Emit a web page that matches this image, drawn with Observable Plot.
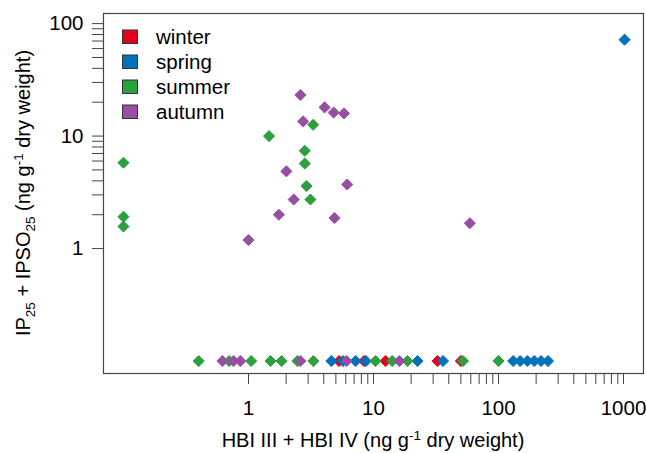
<!DOCTYPE html>
<html><head><meta charset="utf-8">
<script src="https://cdn.jsdelivr.net/npm/d3@7"></script>
<script src="https://cdn.jsdelivr.net/npm/@observablehq/plot@0.6"></script>
<style>
body{margin:0;background:#fff}
#chart{position:absolute;left:0;top:0}
</style>
</head><body><div id="chart"></div>
<script>
// Seasons and colours
const seasons = ["winter", "spring", "summer", "autumn"];
const seasonColors = ["#e3001b", "#0072bc", "#2ca03c", "#984ea3"];

// HBI III + HBI IV (x) and IP25 + IPSO25 (y), ng g-1 dry weight; 0 = not detected
const winterHBI = [5.3, 8.4, 12.5, 32.5, 50];
const winterIP  = [0, 0, 0, 0, 0];

const springHBI = [4.6, 5.7, 7.2, 8.7, 22.5, 36, 131, 149, 170, 193, 219, 249, 1020];
const springIP  = [0, 0, 0, 0, 0, 0, 0, 0, 0, 0, 0, 0, 72];

const summerHBI = [0.40, 0.70, 1.05, 1.5, 1.84, 2.46, 3.3, 10.4, 14.1, 18.7, 52, 100,
                   0, 0, 0, 1.46, 2.82, 2.82, 3.29, 2.91, 3.13];
const summerIP  = [0, 0, 0, 0, 0, 0, 0, 0, 0, 0, 0, 0,
                   5.8, 1.92, 1.57, 10, 7.4, 5.7, 12.6, 3.6, 2.73];

const autumnHBI = [0.62, 0.76, 0.86, 2.6, 6.1, 16.1,
                   2.6, 4.06, 4.8, 5.8, 2.74, 2.01, 6.16, 2.3, 1.75, 4.88, 1.0, 59];
const autumnIP  = [0, 0, 0, 0, 0, 0,
                   23.2, 18, 16.2, 15.9, 13.5, 4.86, 3.71, 2.73, 2.0, 1.87, 1.19, 1.68];

// Tick values and labels
const xTicks = [1,2,3,4,5,6,7,8,9,10,20,30,40,50,60,70,80,90,100,200,300,400,500,600,700,800,900,1000];
const xTickLabels = [1, 10, 100, 1000];
const yTicks = [1,2,3,4,5,6,7,8,9,10,20,30,40,50,60,70,80,90,100];
const yTickLabels = [1, 10, 100];

// zero values are drawn on the log axis at this position
const ZERO_AT = 0.1;

const seriesList = [
  [seasons[0], winterHBI, winterIP],
  [seasons[1], springHBI, springIP],
  [seasons[2], summerHBI, summerIP],
  [seasons[3], autumnHBI, autumnIP]
];
const rows = [];
for (const [s, xs, ys] of seriesList) {
  xs.forEach((v, i) => rows.push({
    season: s,
    hbi: v === 0 ? ZERO_AT : v,
    ip: ys[i] === 0 ? ZERO_AT : ys[i]
  }));
}

const font = "'Liberation Sans', Arial, sans-serif";

const plot = Plot.plot({
  width: 646,
  height: 453,
  marginLeft: 103,
  marginRight: 3,
  marginTop: 13,
  marginBottom: 80,
  style: {fontFamily: font, fontSize: "20px", color: "#000", background: "#fff"},
  x: {type: "log", domain: [0.0692, 1445]},
  y: {type: "log", domain: [0.0775, 123]},
  color: {domain: seasons, range: seasonColors},
  marks: [
    Plot.axisX({
      ticks: xTicks, tickSize: 11, tickPadding: 16, label: null,
      tickFormat: d => xTickLabels.includes(d) ? String(d) : "",
      stroke: "#444", fontSize: 20.5
    }),
    Plot.axisY({
      ticks: yTicks, tickSize: 11, tickPadding: 9, label: null,
      tickFormat: d => yTickLabels.includes(d) ? String(d) : "",
      stroke: "#444", fontSize: 20.5
    }),
    Plot.dot(rows, {
      x: "hbi", y: "ip", fill: "season", symbol: "diamond2", r: 5,
      stroke: "season", strokeWidth: 1, strokeLinejoin: "round"
    }),
    Plot.frame({stroke: "#444", strokeWidth: 1.2})
  ]
});

const svg = d3.select(plot);

// Legend inside the plot area
const lg = svg.append("g")
  .attr("font-family", font).attr("font-size", 20.5).attr("text-anchor", "start");
seasons.forEach((s, i) => {
  lg.append("rect")
    .attr("x", 122.5).attr("y", 30 + 25 * i)
    .attr("width", 15).attr("height", 13.5)
    .attr("fill", seasonColors[i]).attr("stroke", "#333").attr("stroke-width", 1);
  lg.append("text")
    .attr("x", 156).attr("y", 37 + 25 * i).attr("dy", "0.35em")
    .attr("text-anchor", "start")
    .attr("fill", "#000").text(s);
});

// X axis title
const xt = svg.append("text")
  .attr("x", 373).attr("y", 447)
  .attr("text-anchor", "middle")
  .attr("font-family", font).attr("font-size", 20).attr("fill", "#000");
xt.append("tspan").text("HBI III + HBI IV (ng g");
xt.append("tspan").attr("font-size", 13.5).attr("dy", -7.5).text("-1");
xt.append("tspan").attr("dy", 7.5).text(" dry weight)");

// Y axis title
const yt = svg.append("text")
  .attr("transform", "translate(30,193) rotate(-90)")
  .attr("text-anchor", "middle")
  .attr("font-family", font).attr("font-size", 20).attr("fill", "#000");
yt.append("tspan").text("IP");
yt.append("tspan").attr("font-size", 13.5).attr("dy", 5).text("25");
yt.append("tspan").attr("dy", -5).text(" + IPSO");
yt.append("tspan").attr("font-size", 13.5).attr("dy", 5).text("25");
yt.append("tspan").attr("dy", -5).text(" (ng g");
yt.append("tspan").attr("font-size", 13.5).attr("dy", -7.5).text("-1");
yt.append("tspan").attr("dy", 7.5).text(" dry weight)");

document.getElementById("chart").appendChild(plot);
</script>
</body></html>
